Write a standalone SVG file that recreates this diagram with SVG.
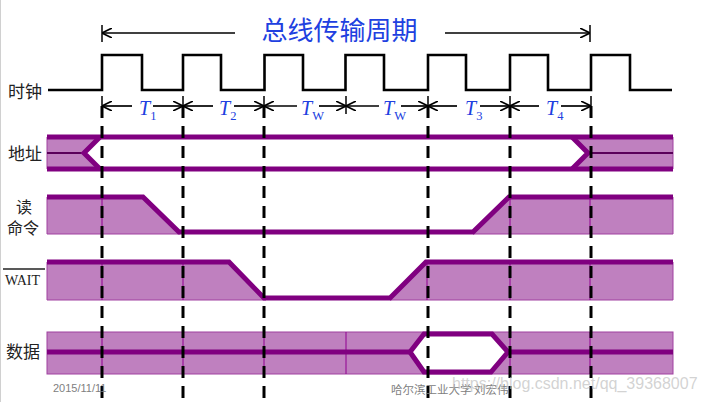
<svg xmlns="http://www.w3.org/2000/svg" width="704" height="402" viewBox="0 0 704 402">
<style>
.lbl{font-family:"Noto Sans CJK SC","Noto Sans",sans-serif;font-size:17px;fill:#222;}
.blue{fill:#2040e0;}
.tl{font-family:"Liberation Serif",serif;font-style:italic;font-size:20px;}
.sub{font-family:"Liberation Serif",serif;font-style:normal;font-size:12.5px;}
.thick{fill:none;stroke:#800080;stroke-width:5;stroke-linejoin:miter;}
.fill{fill:#bf80bf;stroke:#a040a0;stroke-width:1;}
.seg{stroke:#900090;stroke-width:1;}
.mid{stroke:#5a005a;stroke-width:2;}
.dash{stroke:#000;stroke-width:3;stroke-dasharray:12 8;}
.tick{stroke:#000;stroke-width:1.5;}
.arr{stroke:#000;stroke-width:1.7;marker-end:url(#ah);}
.foot{font-family:"Noto Sans CJK SC","Liberation Sans",sans-serif;fill:#808080;}
</style>
<defs>
<marker id="ah" viewBox="0 0 10 10" refX="10" refY="5" markerUnits="userSpaceOnUse" markerWidth="10" markerHeight="10" orient="auto">
<path d="M0,0 L10,5 L0,10" fill="none" stroke="#000" stroke-width="1.6"/>
</marker>
</defs>
<rect width="704" height="402" fill="#fff"/>
<line x1="0.5" y1="0" x2="0.5" y2="402" stroke="#d0d0d0" stroke-width="1"/>

<g id="title">
<text x="339.5" y="40" class="lbl blue" style="font-size:26px" text-anchor="middle">总线传输周期</text>
</g>

<g id="labels">
<text x="8" y="98" class="lbl">时钟</text>
<text x="8" y="160" class="lbl">地址</text>
<text class="lbl" style="font-size:16px"><tspan x="16" y="213">读</tspan><tspan x="7" y="234">命令</tspan></text>
<line x1="3" y1="269" x2="45" y2="269" stroke="#222" stroke-width="1.3"/>
<text x="5" y="285" style="font-family:'Liberation Serif',serif;font-size:14px;fill:#222">WAIT</text>
<text x="6" y="358" class="lbl">数据</text>
</g>

<g id="clock">
<path d="M48,90 H102 V55 H142 V90 H183 V55 H221 V90 H264.5 V55 H303 V90 H345.5 V55 H384 V90 H428 V55 H466 V90 H510 V55 H548 V90 H591 V55 H630 V90 H672" fill="none" stroke="#000" stroke-width="2.6"/>
</g>

<g id="address">
<polygon class="fill" points="47,137 100,137 83,153 100,169 47,169"/>
<polygon class="fill" points="572,137 673,137 673,169 572,169 588,153"/>
<line class="mid" x1="47" y1="153" x2="83" y2="153"/>
<line class="mid" x1="588" y1="153" x2="673" y2="153"/>
<line class="thick" x1="47" y1="137" x2="673" y2="137"/>
<line class="thick" x1="47" y1="169" x2="673" y2="169"/>
<polyline class="thick" points="100,137 84,153 100,169"/>
<polyline class="thick" points="572,137 588,153 572,169"/>
</g>

<g id="read">
<polygon class="fill" points="47,197 143,197 180,234 47,234"/>
<polygon class="fill" points="473,234 510,197 673,197 673,234"/>
<line class="seg" x1="102" y1="197" x2="102" y2="234"/>
<line class="seg" x1="510" y1="197" x2="510" y2="234"/>
<line class="seg" x1="590" y1="197" x2="590" y2="234"/>
<path class="thick" d="M47,197 H143 L179,232 H473 L509,197 H673"/>
</g>

<g id="wait">
<polygon class="fill" points="47,262 229,262 266,300 47,300"/>
<polygon class="fill" points="390,300 427,262 673,262 673,300"/>
<line class="seg" x1="102" y1="262" x2="102" y2="300"/>
<line class="seg" x1="183" y1="262" x2="183" y2="300"/>
<line class="seg" x1="427" y1="262" x2="427" y2="300"/>
<line class="seg" x1="510" y1="262" x2="510" y2="300"/>
<line class="seg" x1="590" y1="262" x2="590" y2="300"/>
<path class="thick" d="M47,262 H229 L264,298 H390 L426,262 H673"/>
</g>

<g id="data">
<rect class="fill" x="47" y="332" width="626" height="42"/>
<line class="seg" x1="102" y1="332" x2="102" y2="374"/>
<line class="seg" x1="183" y1="332" x2="183" y2="374"/>
<line class="seg" x1="264" y1="332" x2="264" y2="374"/>
<line class="seg" x1="346" y1="332" x2="346" y2="374"/>
<line class="seg" x1="510" y1="332" x2="510" y2="374"/>
<line class="seg" x1="590" y1="332" x2="590" y2="374"/>
<line class="thick" x1="47" y1="352" x2="410" y2="352"/>
<line class="thick" x1="508" y1="352" x2="673" y2="352"/>
<polygon points="410,352 424,334 492,334 508,352 491,372 424,372" fill="#fff" stroke="#800080" stroke-width="5" stroke-linejoin="miter"/>
</g>

<g id="connectors">
<line class="tick" x1="102" y1="25" x2="102" y2="42"/>
<line class="tick" x1="590" y1="25" x2="590" y2="42"/>
<line class="arr" x1="235" y1="33" x2="102" y2="33"/>
<line class="arr" x1="445" y1="33" x2="590" y2="33"/>
<g>
<line class="tick" x1="102" y1="96" x2="102" y2="114"/>
<line class="tick" x1="183" y1="96" x2="183" y2="114"/>
<line class="tick" x1="264" y1="96" x2="264" y2="114"/>
<line class="tick" x1="346" y1="96" x2="346" y2="114"/>
<line class="tick" x1="428" y1="96" x2="428" y2="114"/>
<line class="tick" x1="510" y1="96" x2="510" y2="114"/>
<line class="tick" x1="591" y1="96" x2="591" y2="114"/>
</g>
<line class="arr" x1="132" y1="106" x2="102" y2="106"/>
<line class="arr" x1="153" y1="106" x2="183" y2="106"/>
<line class="arr" x1="213" y1="106" x2="183" y2="106"/>
<line class="arr" x1="234" y1="106" x2="264" y2="106"/>
<line class="arr" x1="297" y1="106" x2="264" y2="106"/>
<line class="arr" x1="319" y1="106" x2="346" y2="106"/>
<line class="arr" x1="379" y1="106" x2="346" y2="106"/>
<line class="arr" x1="401" y1="106" x2="428" y2="106"/>
<line class="arr" x1="457" y1="106" x2="428" y2="106"/>
<line class="arr" x1="480" y1="106" x2="510" y2="106"/>
<line class="arr" x1="539" y1="106" x2="510" y2="106"/>
<line class="arr" x1="561" y1="106" x2="591" y2="106"/>
<line class="dash" x1="102" y1="106" x2="102" y2="402"/>
<line class="dash" x1="183" y1="106" x2="183" y2="402"/>
<line class="dash" x1="264" y1="106" x2="264" y2="402"/>
<line class="dash" x1="428" y1="106" x2="428" y2="402"/>
<line class="dash" x1="510" y1="106" x2="510" y2="402"/>
<line class="dash" x1="591" y1="106" x2="591" y2="402"/>
</g>

<g id="periods">
<text x="139" y="115" class="tl blue">T<tspan class="sub" dy="5">1</tspan></text>
<text x="219" y="115" class="tl blue">T<tspan class="sub" dy="5">2</tspan></text>
<text x="301" y="115" class="tl blue">T<tspan class="sub" dy="5">W</tspan></text>
<text x="383" y="115" class="tl blue">T<tspan class="sub" dy="5">W</tspan></text>
<text x="465" y="115" class="tl blue">T<tspan class="sub" dy="5">3</tspan></text>
<text x="546" y="115" class="tl blue">T<tspan class="sub" dy="5">4</tspan></text>
</g>

<g id="footer">
<text x="53" y="392" class="foot" style="font-family:'Liberation Sans',sans-serif;font-size:11px">2015/11/11</text>
<text x="391" y="394" class="foot" style="font-size:11.5px">哈尔滨工业大学 刘宏伟</text>
<text x="452" y="389" style="font-family:'Liberation Sans',sans-serif;font-size:16px;fill:#c0c0c0;fill-opacity:0.7">https://blog.csdn.net/qq_39368007</text>
</g>
</svg>
